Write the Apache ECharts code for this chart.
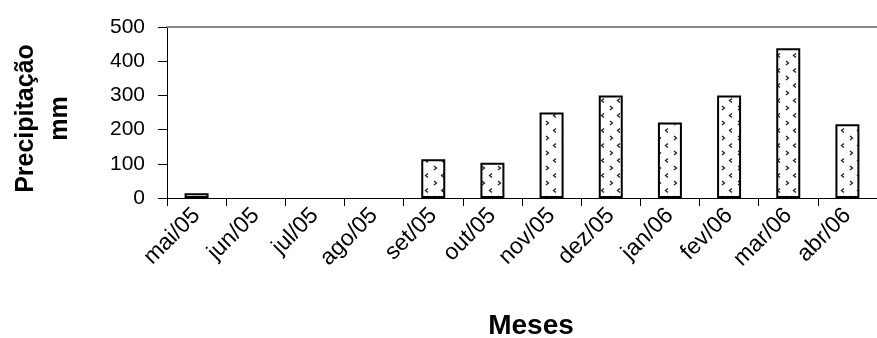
<!DOCTYPE html>
<html>
<head>
<meta charset="utf-8">
<script src="https://cdn.jsdelivr.net/npm/echarts@6/dist/echarts.min.js"></script>
<style>
  html, body { margin: 0; padding: 0; background: #fff; }
  #chart { width: 877px; height: 338px; }
</style>
</head>
<body>
<div id="chart"></div>
<script>
// Monthly rainfall, May 2005 – April 2006
const months = ['mai/05', 'jun/05', 'jul/05', 'ago/05', 'set/05', 'out/05',
                'nov/05', 'dez/05', 'jan/06', 'fev/06', 'mar/06', 'abr/06'];
const rainfall = [14, 0, 0, 0, 113, 103, 250, 300, 221, 300, 438, 216];
const yTicks = [0, 100, 200, 300, 400, 500];

// Small tile with scattered chevrons used as the bar fill
function makePattern() {
  const c = document.createElement('canvas');
  c.width = 16; c.height = 15;
  const g = c.getContext('2d');
  g.fillStyle = '#fff';
  g.fillRect(0, 0, 16, 15);
  g.strokeStyle = '#222';
  g.lineWidth = 1.3;
  function chev(x, y, dir) {
    g.beginPath();
    g.moveTo(x, y);
    g.lineTo(x + 2.5 * dir, y + 2);
    g.lineTo(x, y + 4);
    g.stroke();
  }
  chev(2, 1, 1);
  chev(12, 8.5, -1);
  return c;
}

const chart = echarts.init(document.getElementById('chart'), null, { renderer: 'canvas' });
const font = 'Liberation Sans, Arial, sans-serif';

// months with no rain get no outline, so nothing is drawn for them
const barData = rainfall.map(v => v === 0 ? { value: v, itemStyle: { borderWidth: 0 } } : v);

chart.setOption({
  animation: false,
  backgroundColor: '#fff',
  grid: { left: 167, top: 27, right: -14, bottom: 140, containLabel: false },
  xAxis: [{
    type: 'category',
    data: months,
    axisLine: { lineStyle: { color: '#000', width: 1 } },
    axisTick: { show: true, alignWithLabel: false, length: 8, lineStyle: { color: '#000' } },
    axisLabel: {
      rotate: 45, interval: 0, margin: 14,
      fontFamily: font, fontSize: 23, color: '#000'
    },
    splitLine: { show: false }
  }, {
    // thin rule across the top of the plot
    type: 'category',
    data: months,
    position: 'top',
    axisLine: { lineStyle: { color: '#888', width: 2 } },
    axisTick: { show: false },
    axisLabel: { show: false }
  }],
  yAxis: {
    type: 'value',
    min: yTicks[0],
    max: yTicks[yTicks.length - 1],
    interval: 100,
    name: 'Precipitação\nmm',
    nameLocation: 'middle',
    nameRotate: 90,
    nameGap: 90,
    nameTextStyle: {
      fontFamily: font, fontSize: 25, fontWeight: 'bold', color: '#000',
      lineHeight: 34, padding: [0, 12, 0, 0]
    },
    axisLine: { show: true, lineStyle: { color: '#000', width: 1 } },
    axisTick: { show: true, length: 9, lineStyle: { color: '#000' } },
    axisLabel: { fontFamily: font, fontSize: 21, color: '#000', margin: 22 },
    splitLine: { show: false }
  },
  series: [{
    type: 'bar',
    data: barData,
    barWidth: 24,
    itemStyle: {
      color: { image: makePattern(), repeat: 'repeat' },
      borderColor: '#000',
      borderWidth: 2
    }
  }],
  graphic: [{
    type: 'text',
    x: 531, y: 326,
    style: {
      text: 'Meses',
      font: 'bold 28px ' + font,
      fill: '#000',
      align: 'center',
      verticalAlign: 'middle'
    }
  }]
});
</script>
</body>
</html>
